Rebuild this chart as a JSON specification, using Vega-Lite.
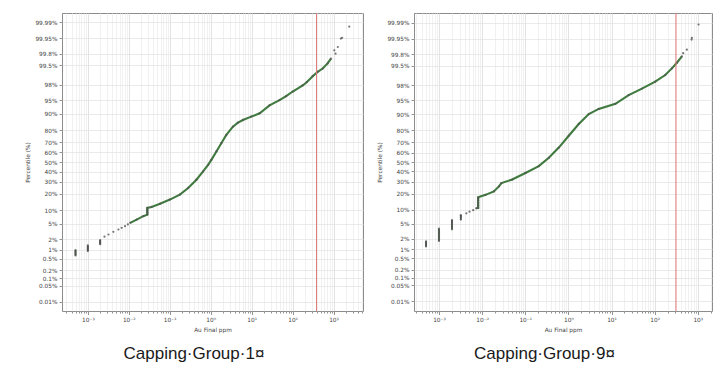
{
  "$schema": "https://vega.github.io/schema/vega-lite/v6.json",
  "background": "white",
  "padding": {"left": 24, "top": 12, "right": 5, "bottom": 5},
  "spacing": 12,
  "config": {
    "view": {"stroke": "#8c8c8c", "strokeWidth": 1},
    "axis": {
      "labelFont": "DejaVu Sans", "labelFontSize": 5.8, "labelColor": "#444",
      "titleFont": "DejaVu Sans", "titleFontSize": 5.8, "titleFontWeight": "normal", "titleColor": "#444",
      "domain": false, "tickColor": "#777", "tickWidth": 0.8, "labelPadding": 2, "titlePadding": 4,
      "labelOverlap": false, "labelBound": false, "labelFlush": false
    },
    "title": {"font": "Liberation Sans", "fontSize": 17, "fontWeight": "normal", "color": "#1a1a1a", "orient": "bottom", "anchor": "middle", "frame": "bounds", "offset": 14}
  },
  "datasets": {
    "g1": [
      {"x": 0.0005, "p": 0.65}, {"x": 0.0005, "p": 0.72}, {"x": 0.0005, "p": 0.8}, {"x": 0.0005, "p": 0.88}, {"x": 0.0005, "p": 0.96},
      {"x": 0.001, "p": 0.9}, {"x": 0.001, "p": 1.0}, {"x": 0.001, "p": 1.1}, {"x": 0.001, "p": 1.2}, {"x": 0.001, "p": 1.33},
      {"x": 0.002, "p": 1.45}, {"x": 0.002, "p": 1.55}, {"x": 0.002, "p": 1.65}, {"x": 0.002, "p": 1.77}, {"x": 0.002, "p": 1.9},
      {"x": 0.00255, "p": 2.35}, {"x": 0.0032, "p": 2.7}, {"x": 0.0042, "p": 3.18}, {"x": 0.0056, "p": 3.64},
      {"x": 0.0067, "p": 4.0}, {"x": 0.0081, "p": 4.4}, {"x": 0.0095, "p": 4.85}, {"x": 0.0108, "p": 5.3},
      {"x": 0.0156, "p": 6.3}, {"x": 0.0226, "p": 7.5},
      {"x": 0.0284, "p": 8.1}, {"x": 0.0284, "p": 9.0}, {"x": 0.0284, "p": 10.0}, {"x": 0.0284, "p": 11.1},
      {"x": 0.036, "p": 11.6}, {"x": 0.058, "p": 13.4}, {"x": 0.101, "p": 15.9}, {"x": 0.177, "p": 19.3},
      {"x": 0.282, "p": 24.5}, {"x": 0.449, "p": 31.9}, {"x": 0.653, "p": 40.1}, {"x": 0.865, "p": 47},
      {"x": 1.04, "p": 52.3}, {"x": 1.38, "p": 61}, {"x": 1.82, "p": 69.1}, {"x": 2.41, "p": 76.4},
      {"x": 3.5, "p": 82.6}, {"x": 4.64, "p": 85.2}, {"x": 6.14, "p": 86.8}, {"x": 9.78, "p": 88.6},
      {"x": 15.7, "p": 90.2}, {"x": 27.4, "p": 93.4}, {"x": 48, "p": 95.0}, {"x": 69.6, "p": 96.0},
      {"x": 101, "p": 96.95}, {"x": 177, "p": 97.9}, {"x": 221, "p": 98.3}, {"x": 310, "p": 98.87},
      {"x": 410, "p": 99.17}, {"x": 543, "p": 99.35}, {"x": 718, "p": 99.56}, {"x": 865, "p": 99.7},
      {"x": 1045, "p": 99.85}, {"x": 1119, "p": 99.8}, {"x": 1274, "p": 99.888}, {"x": 1514, "p": 99.948},
      {"x": 1622, "p": 99.952}, {"x": 2421, "p": 99.984}
    ],
    "g9": [
      {"x": 0.0005, "p": 1.2}, {"x": 0.0005, "p": 1.32}, {"x": 0.0005, "p": 1.45}, {"x": 0.0005, "p": 1.57}, {"x": 0.0005, "p": 1.7},
      {"x": 0.001, "p": 1.75}, {"x": 0.001, "p": 2.0}, {"x": 0.001, "p": 2.3}, {"x": 0.001, "p": 2.65}, {"x": 0.001, "p": 3.0}, {"x": 0.001, "p": 3.35}, {"x": 0.001, "p": 3.75},
      {"x": 0.002, "p": 3.6}, {"x": 0.002, "p": 4.1}, {"x": 0.002, "p": 4.6}, {"x": 0.002, "p": 5.1}, {"x": 0.002, "p": 5.6}, {"x": 0.002, "p": 6.0},
      {"x": 0.0032, "p": 6.2}, {"x": 0.0032, "p": 6.9}, {"x": 0.0032, "p": 7.5}, {"x": 0.0032, "p": 7.8},
      {"x": 0.0043, "p": 8.5}, {"x": 0.0051, "p": 9.2}, {"x": 0.0062, "p": 9.9}, {"x": 0.0073, "p": 10.8},
      {"x": 0.0081, "p": 11.0}, {"x": 0.0081, "p": 12.3}, {"x": 0.0081, "p": 13.7}, {"x": 0.0081, "p": 15.2}, {"x": 0.0081, "p": 16.4}, {"x": 0.0081, "p": 17.3},
      {"x": 0.012, "p": 19.0}, {"x": 0.0187, "p": 21.6}, {"x": 0.0245, "p": 25.7}, {"x": 0.028, "p": 28.7},
      {"x": 0.0498, "p": 32}, {"x": 0.101, "p": 38.5}, {"x": 0.206, "p": 45.6}, {"x": 0.352, "p": 54.5},
      {"x": 0.6, "p": 65}, {"x": 1.02, "p": 75.8}, {"x": 1.74, "p": 84.5}, {"x": 2.97, "p": 90.0},
      {"x": 5.06, "p": 92.2}, {"x": 12.3, "p": 94.0}, {"x": 25, "p": 96.3}, {"x": 50.8, "p": 97.5},
      {"x": 103, "p": 98.4}, {"x": 176, "p": 98.99}, {"x": 251, "p": 99.38}, {"x": 328, "p": 99.6},
      {"x": 428, "p": 99.76}, {"x": 459, "p": 99.818}, {"x": 559, "p": 99.865}, {"x": 718, "p": 99.946},
      {"x": 730, "p": 99.954}, {"x": 1043, "p": 99.988}
    ],
    "caps": [{"panel": "g1", "cap": 385}, {"panel": "g9", "cap": 312}]
  },
  "hconcat": [
    {
      "title": {"text": "Capping·Group·1¤"},
      "width": 301, "height": 298,
      "layer": [
        {
          "data": {"name": "g1"},
          "transform": [{"calculate": "quantileNormal(datum.p/100)", "as": "z"}],
          "mark": {"type": "rule", "color": "#2f4f2f", "strokeWidth": 1.6},
          "encoding": {
            "x": {"field": "x", "type": "quantitative", "title": "Au Final ppm",
              "scale": {"type": "log", "domain": [0.000234, 5250], "nice": false},
              "axis": {
                "values": [0.0003,0.0004,0.0005,0.0006,0.0007,0.0008,0.0009,0.001,0.002,0.003,0.004,0.005,0.006,0.007,0.008,0.009,0.01,0.02,0.03,0.04,0.05,0.06,0.07,0.08,0.09,0.1,0.2,0.3,0.4,0.5,0.6,0.7,0.8,0.9,1,2,3,4,5,6,7,8,9,10,20,30,40,50,60,70,80,90,100,200,300,400,500,600,700,800,900,1000,2000,3000,4000,5000],
                "tickCount": 200,
                "labelExpr": "abs(log(datum.value)/LN10 - round(log(datum.value)/LN10)) < 0.000001 ? ['10⁻³','10⁻²','10⁻¹','10⁰','10¹','10²','10³'][round(log(datum.value)/LN10)+3] : ''",
                "labelOverlap": false,
                "grid": true,
                "gridColor": {"condition": {"test": "abs(log(datum.value)/LN10 - round(log(datum.value)/LN10)) < 0.000001", "value": "#dcdcdc"}, "value": "#eeeeee"},
                "gridWidth": 0.8,
                "tickSize": {"condition": {"test": "abs(log(datum.value)/LN10 - round(log(datum.value)/LN10)) < 0.000001", "value": 3.5}, "value": 2}
              }},
            "y": {"aggregate": "min", "field": "z", "type": "quantitative", "title": "Percentile (%)",
              "scale": {"domain": [-3.96, 3.96], "nice": false, "zero": false},
              "axis": {
                "values": [-3.719016,-3.290527,-3.090232,-2.878162,-2.575829,-2.326348,-2.053749,-1.644854,-1.281552,-0.841621,-0.524401,-0.253347,0,0.253347,0.524401,0.841621,1.281552,1.644854,2.053749,2.575829,2.878162,3.290527,3.719016],
                "tickCount": 200,
                "labelExpr": "round(cumulativeNormal(datum.value)*10000)/100 + '%'",
                "labelOverlap": false,
                "grid": true, "gridColor": "#e4e4e4", "gridWidth": 0.8, "tickSize": 3
              }},
            "y2": {"aggregate": "max", "field": "z"}
          }
        },
        {
          "data": {"name": "g1"},
          "transform": [{"calculate": "quantileNormal(datum.p/100)", "as": "z"}, {"filter": "datum.p >= 5 && datum.p <= 99.7"}],
          "mark": {"type": "line", "color": "#3f7a3f", "strokeWidth": 2.1},
          "encoding": {
            "x": {"field": "x", "type": "quantitative", "title": "Au Final ppm"},
            "y": {"field": "z", "type": "quantitative", "title": "Percentile (%)"},
            "order": {"field": "p", "type": "quantitative"}
          }
        },
        {
          "data": {"name": "g1"},
          "transform": [{"calculate": "quantileNormal(datum.p/100)", "as": "z"}],
          "mark": {"type": "point", "filled": true, "size": 5, "color": "#555555", "opacity": 0.8},
          "encoding": {
            "x": {"field": "x", "type": "quantitative", "title": "Au Final ppm"},
            "y": {"field": "z", "type": "quantitative", "title": "Percentile (%)"}
          }
        },
        {
          "data": {"name": "caps"},
          "transform": [{"filter": "datum.panel == 'g1'"}],
          "mark": {"type": "rule", "color": "#e07878", "strokeWidth": 1},
          "encoding": {"x": {"field": "cap", "type": "quantitative", "title": "Au Final ppm"}}
        }
      ]
    },
    {
      "title": {"text": "Capping·Group·9¤"},
      "width": 298, "height": 298,
      "layer": [
        {
          "data": {"name": "g9"},
          "transform": [{"calculate": "quantileNormal(datum.p/100)", "as": "z"}],
          "mark": {"type": "rule", "color": "#2f4f2f", "strokeWidth": 1.6},
          "encoding": {
            "x": {"field": "x", "type": "quantitative", "title": "Au Final ppm",
              "scale": {"type": "log", "domain": [0.000263, 2138], "nice": false},
              "axis": {
                "values": [0.0003,0.0004,0.0005,0.0006,0.0007,0.0008,0.0009,0.001,0.002,0.003,0.004,0.005,0.006,0.007,0.008,0.009,0.01,0.02,0.03,0.04,0.05,0.06,0.07,0.08,0.09,0.1,0.2,0.3,0.4,0.5,0.6,0.7,0.8,0.9,1,2,3,4,5,6,7,8,9,10,20,30,40,50,60,70,80,90,100,200,300,400,500,600,700,800,900,1000,2000],
                "tickCount": 200,
                "labelExpr": "abs(log(datum.value)/LN10 - round(log(datum.value)/LN10)) < 0.000001 ? ['10⁻³','10⁻²','10⁻¹','10⁰','10¹','10²','10³'][round(log(datum.value)/LN10)+3] : ''",
                "labelOverlap": false,
                "grid": true,
                "gridColor": {"condition": {"test": "abs(log(datum.value)/LN10 - round(log(datum.value)/LN10)) < 0.000001", "value": "#dcdcdc"}, "value": "#eeeeee"},
                "gridWidth": 0.8,
                "tickSize": {"condition": {"test": "abs(log(datum.value)/LN10 - round(log(datum.value)/LN10)) < 0.000001", "value": 3.5}, "value": 2}
              }},
            "y": {"aggregate": "min", "field": "z", "type": "quantitative", "title": "Percentile (%)",
              "scale": {"domain": [-3.98, 3.98], "nice": false, "zero": false},
              "axis": {
                "values": [-3.719016,-3.290527,-3.090232,-2.878162,-2.575829,-2.326348,-2.053749,-1.644854,-1.281552,-0.841621,-0.524401,-0.253347,0,0.253347,0.524401,0.841621,1.281552,1.644854,2.053749,2.575829,2.878162,3.290527,3.719016],
                "tickCount": 200,
                "labelExpr": "round(cumulativeNormal(datum.value)*10000)/100 + '%'",
                "labelOverlap": false,
                "grid": true, "gridColor": "#e4e4e4", "gridWidth": 0.8, "tickSize": 3
              }},
            "y2": {"aggregate": "max", "field": "z"}
          }
        },
        {
          "data": {"name": "g9"},
          "transform": [{"calculate": "quantileNormal(datum.p/100)", "as": "z"}, {"filter": "datum.p >= 10.8 && datum.p <= 99.76"}],
          "mark": {"type": "line", "color": "#3f7a3f", "strokeWidth": 2.1},
          "encoding": {
            "x": {"field": "x", "type": "quantitative", "title": "Au Final ppm"},
            "y": {"field": "z", "type": "quantitative", "title": "Percentile (%)"},
            "order": {"field": "p", "type": "quantitative"}
          }
        },
        {
          "data": {"name": "g9"},
          "transform": [{"calculate": "quantileNormal(datum.p/100)", "as": "z"}],
          "mark": {"type": "point", "filled": true, "size": 5, "color": "#555555", "opacity": 0.8},
          "encoding": {
            "x": {"field": "x", "type": "quantitative", "title": "Au Final ppm"},
            "y": {"field": "z", "type": "quantitative", "title": "Percentile (%)"}
          }
        },
        {
          "data": {"name": "caps"},
          "transform": [{"filter": "datum.panel == 'g9'"}],
          "mark": {"type": "rule", "color": "#e07878", "strokeWidth": 1},
          "encoding": {"x": {"field": "cap", "type": "quantitative", "title": "Au Final ppm"}}
        }
      ]
    }
  ]
}
